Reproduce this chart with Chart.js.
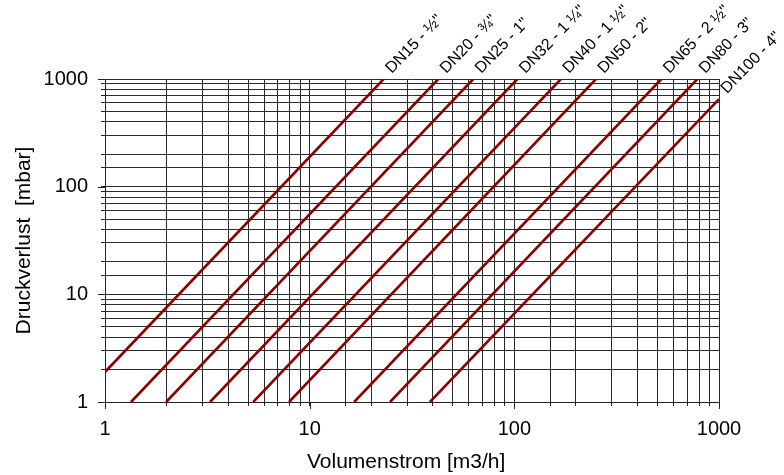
<!DOCTYPE html>
<html>
<head>
<meta charset="utf-8">
<script src="https://cdn.jsdelivr.net/npm/chart.js@4.4.1/dist/chart.umd.min.js"></script>
<style>
  html, body { margin: 0; padding: 0; background: #ffffff; }
  #wrap { width: 784px; height: 475px; }
</style>
</head>
<body>
<div id="wrap"><canvas id="c" width="784" height="475"></canvas></div>
<script>
// ---- data ----
const seriesNames   = ['DN15 - ½"', 'DN20 - ¾"', 'DN25 - 1"', 'DN32 - 1 ¼"', 'DN40 - 1 ½"', 'DN50 - 2"', 'DN65 - 2 ½"', 'DN80 - 3"', 'DN100 - 4"'];
const flowStart     = [1,    1.34, 1.99, 3.26, 5.3,  7.93,  16.5, 24.7, 38.7];
const pressureStart = [1.9,  1,    1,    1,    1,    1,     1,    1,    1];
const flowEnd       = [23,   42.5, 63,   103.5, 169, 250.5, 523,  784,  1000];
const pressureEnd   = [1000, 1000, 1000, 1000, 1000, 1000,  1000, 1000, 650];
const xMajorTicks   = [1, 10, 100, 1000];
const yMajorTicks   = [1, 10, 100, 1000];
const xTitle = 'Volumenstrom [m3/h]  ';
const yTitle = 'Druckverlust  [mbar]';

Chart.defaults.font.family = "'Liberation Sans', Arial, sans-serif";
Chart.defaults.color = '#000';

const datasets = seriesNames.map((name, i) => ({
  label: name,
  data: [{x: flowStart[i], y: pressureStart[i]}, {x: flowEnd[i], y: pressureEnd[i]}],
  borderColor: '#8b0000',
  borderWidth: 2.6,
  pointRadius: 0,
  fill: false,
  tension: 0
}));

const isMajor = (v, list) => list.some(m => Math.abs(m - v) < 1e-9);

const labelPlugin = {
  id: 'lineLabels',
  afterDatasetsDraw(chart) {
    const ctx = chart.ctx;
    ctx.save();
    ctx.font = "16px 'Liberation Sans', Arial, sans-serif";
    ctx.fillStyle = '#000';
    ctx.textAlign = 'left';
    ctx.textBaseline = 'alphabetic';
    chart.data.datasets.forEach((ds, i) => {
      const meta = chart.getDatasetMeta(i);
      const p = meta.data[meta.data.length - 1];
      ctx.save();
      ctx.translate(p.x + 8, p.y - 5);
      ctx.rotate(-46 * Math.PI / 180);
      ctx.fillText(ds.label, 0, 0);
      ctx.restore();
    });
    ctx.restore();
  }
};

const majorTickPlugin = {
  id: 'majorTicks',
  afterDraw(chart) {
    const ctx = chart.ctx;
    const xs = chart.scales.x, ys = chart.scales.y;
    ctx.save();
    ctx.strokeStyle = '#222';
    ctx.lineWidth = 1;
    ctx.beginPath();
    xMajorTicks.forEach(v => {
      const px = Math.round(xs.getPixelForValue(v)) + 0.5;
      ctx.moveTo(px, ys.bottom);
      ctx.lineTo(px, ys.bottom + 7);
    });
    yMajorTicks.forEach(v => {
      const py = Math.round(ys.getPixelForValue(v)) + 0.5;
      ctx.moveTo(xs.left - 7, py);
      ctx.lineTo(xs.left, py);
    });
    ctx.stroke();
    ctx.restore();
  }
};

new Chart(document.getElementById('c'), {
  type: 'line',
  data: { datasets },
  plugins: [labelPlugin, majorTickPlugin],
  options: {
    responsive: false,
    animation: false,
    layout: { padding: { top: 79, right: 65, left: 0, bottom: 0 } },
    plugins: { legend: { display: false }, tooltip: { enabled: false } },
    scales: {
      x: {
        type: 'logarithmic',
        min: 1, max: 1000,
        afterFit(scale) { scale.height = 73; },
        grid: { color: '#2a2a2a', lineWidth: 1, tickLength: 4, tickColor: '#222', drawTicks: true },
        border: { color: '#222', width: 1 },
        ticks: {
          autoSkip: false, maxRotation: 0, padding: 11,
          font: { size: 20 },
          callback: (v) => isMajor(v, xMajorTicks) ? String(v) : ''
        },
        title: { display: true, text: xTitle, font: { size: 21 }, padding: { top: 0, bottom: 0 } }
      },
      y: {
        type: 'logarithmic',
        min: 1, max: 1000,
        afterFit(scale) { scale.width = 105; },
        grid: { color: '#2a2a2a', lineWidth: 1, tickLength: 4, tickColor: '#222', drawTicks: true },
        border: { color: '#222', width: 1 },
        ticks: {
          autoSkip: false, padding: 13,
          font: { size: 20 },
          callback: (v) => isMajor(v, yMajorTicks) ? String(v) : ''
        },
        title: { display: true, text: yTitle, font: { size: 21 }, padding: { top: 12, bottom: 0 } }
      }
    }
  }
});
</script>
</body>
</html>
